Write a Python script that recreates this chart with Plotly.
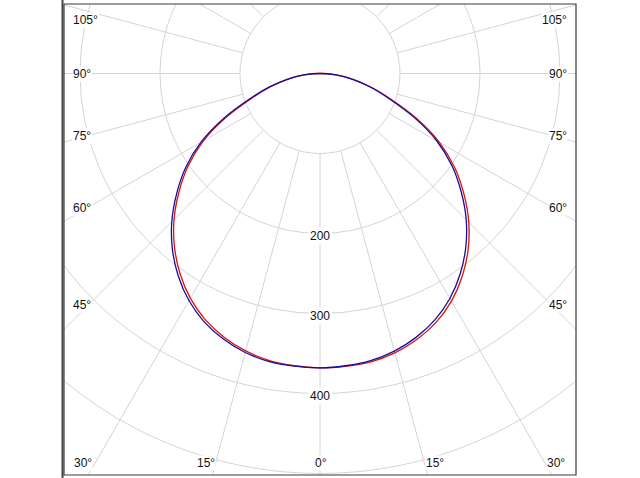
import numpy as np
import plotly.graph_objects as go

# ---- data (luminous intensity, cd) ----
gamma = [0, 5, 10, 15, 20, 25, 30, 35, 40, 45, 50, 55, 60, 65, 70, 75, 80, 85, 90]
red_c0 = [368, 367.5, 366, 361.5, 353.9, 343.3, 328.6, 309.8, 288, 263, 235, 205.8, 172.6, 133.3, 94.9, 66.5, 42, 20.5, 0]
red_c180 = [368, 366.7, 364.3, 359, 350.7, 339.5, 324.3, 305.1, 283, 258, 230, 201.1, 168.3, 129.5, 91.7, 64, 40.3, 19.7, 0]
blue_c90 = [368, 366.7, 364.5, 359.2, 351, 339.8, 324.7, 305.6, 283.5, 258.5, 230.5, 201.6, 168.7, 129.8, 92, 64.2, 40.5, 19.7, 0]
blue_c270 = [368, 367.3, 365.7, 361, 353.3, 342.5, 327.7, 308.9, 287, 262, 234, 204.9, 171.7, 132.5, 94.3, 66, 41.7, 20.3, 0]

ring_values = [100, 200, 300, 400, 500]
ring_label_values = [200, 300, 400]
spoke_angles = list(range(0, 360, 15))
side_labels = ["105°", "90°", "75°", "60°", "45°"]
bottom_labels = ["30°", "15°", "0°", "15°", "30°"]

# ---- geometry helpers (pixel layout -> data units) ----
W, H = 640, 478
S = 0.8            # px per cd
CX, CY = 320, 73.5
L, R, T, B = 64, 576, 4, 475


def dx(px):
    return (px - CX) / S


def dy(py):
    return (CY - py) / S


def curve(left, right):
    g = np.radians(gamma)
    lv = np.array(left, float)
    rv = np.array(right, float)
    x = np.concatenate([-lv[::-1] * np.sin(g[::-1]), rv[1:] * np.sin(g[1:])])
    y = np.concatenate([-lv[::-1] * np.cos(g[::-1]), -rv[1:] * np.cos(g[1:])])
    return x, y


fig = go.Figure()
xr, yr = curve(red_c180, red_c0)
fig.add_trace(go.Scatter(x=xr, y=yr, mode="lines", line=dict(color="#dd1111", width=1.3, shape="spline", smoothing=1.0),
                         name="C0-C180", hoverinfo="skip"))
xb, yb = curve(blue_c270, blue_c90)
fig.add_trace(go.Scatter(x=xb, y=yb, mode="lines", line=dict(color="#1010a0", width=1.3, shape="spline", smoothing=1.0),
                         name="C90-C270", hoverinfo="skip"))

grid = "#d4d4d4"
shapes = []
for v in ring_values:
    shapes.append(dict(type="circle", xref="x", yref="y", x0=-v, x1=v, y0=-v, y1=v,
                       line=dict(color=grid, width=1), layer="below"))
for a in spoke_angles:
    t = np.radians(a)
    shapes.append(dict(type="line", xref="x", yref="y",
                       x0=ring_values[0] * np.sin(t), y0=-ring_values[0] * np.cos(t),
                       x1=1000 * np.sin(t), y1=-1000 * np.cos(t),
                       line=dict(color=grid, width=1), layer="below"))
# frame
shapes.append(dict(type="rect", xref="paper", yref="paper", x0=0, x1=1, y0=0, y1=1,
                   line=dict(color="#3a3a3a", width=1.2)))
shapes.append(dict(type="line", xref="paper", yref="paper", x0=-1.5 / (R - L), x1=-1.5 / (R - L),
                   y0=-0.02, y1=1.02, line=dict(color="#444444", width=2)))

font = dict(family="Liberation Sans, Arial, sans-serif", size=12, color="#111111")
ann = []
side_y = [19.5, 73.5, 135.7, 207.8, 305]
for txt, py in zip(side_labels, side_y):
    ann.append(dict(x=dx(72), y=dy(py), text=txt, xanchor="left", yanchor="middle", showarrow=False,
                    bgcolor="white", borderpad=0, font=font))
    ann.append(dict(x=dx(568), y=dy(py), text=txt, xanchor="right", yanchor="middle", showarrow=False,
                    bgcolor="white", borderpad=0, font=font))
bottom_x = [83.3, 205.8, 320.5, 435, 556]
for txt, px in zip(bottom_labels, bottom_x):
    ann.append(dict(x=dx(px), y=dy(463), text=txt, xanchor="center", yanchor="middle", showarrow=False,
                    bgcolor="white", borderpad=0, font=font))
for v in ring_label_values:
    ann.append(dict(x=0, y=-v - 3.5, text=str(v), xanchor="center", yanchor="middle", showarrow=False,
                    bgcolor="white", borderpad=1, font=font))

fig.update_layout(
    width=W, height=H,
    margin=dict(l=L, r=W - R, t=T, b=H - B),
    paper_bgcolor="white", plot_bgcolor="white",
    showlegend=False,
    shapes=shapes, annotations=ann,
    xaxis=dict(range=[dx(L), dx(R)], showgrid=False, zeroline=False, showticklabels=False, ticks="", fixedrange=True),
    yaxis=dict(range=[dy(B), dy(T)], showgrid=False, zeroline=False, showticklabels=False, ticks="", fixedrange=True),
)
fig.write_html("out.html", config={"displayModeBar": False},
               post_script="document.body.style.margin='0px';document.body.style.padding='0px';")
